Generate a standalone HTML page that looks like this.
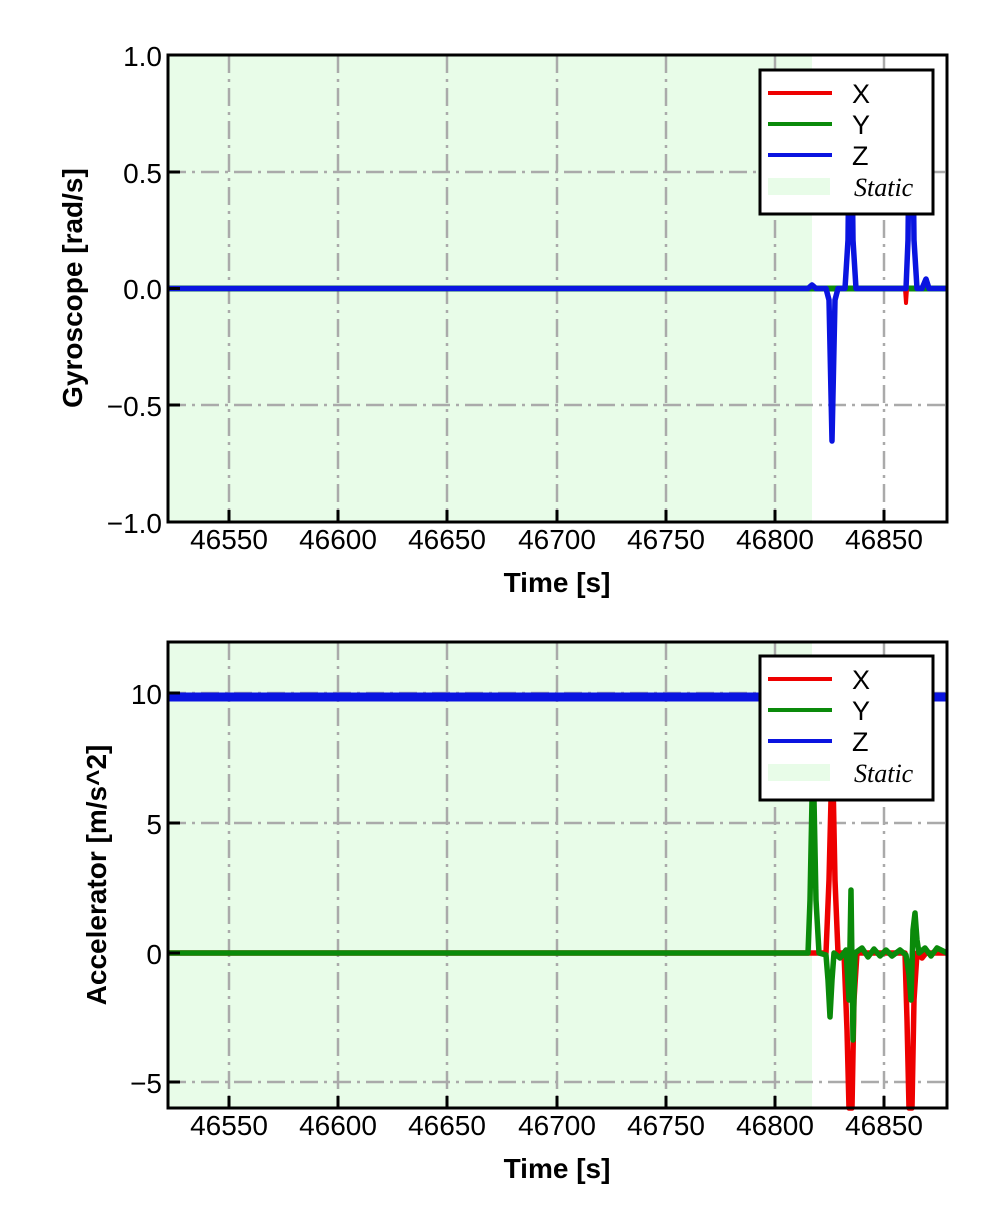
<!DOCTYPE html>
<html><head><meta charset="utf-8"><style>
html,body{margin:0;padding:0;background:#fff;}
svg{display:block;font-family:"Liberation Sans",sans-serif;}
</style></head><body>
<svg width="992" height="1228" viewBox="0 0 992 1228" xmlns="http://www.w3.org/2000/svg">
<!-- TOP PLOT -->
<rect x="168" y="55" width="644" height="467" fill="#e8fce8"/>
<g stroke="#aaa" stroke-width="2.5" stroke-dasharray="18,6,3,6" fill="none">
<line x1="229" y1="55" x2="229" y2="522"/><line x1="338" y1="55" x2="338" y2="522"/>
<line x1="447" y1="55" x2="447" y2="522"/><line x1="557" y1="55" x2="557" y2="522"/>
<line x1="666" y1="55" x2="666" y2="522"/><line x1="775" y1="55" x2="775" y2="522"/>
<line x1="884" y1="55" x2="884" y2="522"/>
<line x1="168" y1="172" x2="947" y2="172"/><line x1="168" y1="405" x2="947" y2="405"/>
</g>
<g fill="none" stroke-linejoin="round">
<path d="M168,288.5 H947" stroke="#0a8a0a" stroke-width="6"/>
<path d="M905,289 L906,303 L907,289" stroke="#e00" stroke-width="4"/>
<path d="M168,288.5 H808 L812,285 L816,288.5 H826 L829,300 L832,441 L835,300 L838,288.5 H845 L848,240 L849,150 L852,150 L853,240 L856,288.5 H906 L908,240 L909,150 L913,150 L914,240 L917,288.5 H922 L926,279 L929,288.5 H947" stroke="#0a14e0" stroke-width="5.5"/>
</g>
<rect x="168" y="55" width="779" height="467" fill="none" stroke="#000" stroke-width="3"/>
<g stroke="#000" stroke-width="3">
<line x1="168" y1="55" x2="180" y2="55"/><line x1="168" y1="172" x2="180" y2="172"/><line x1="168" y1="288.5" x2="180" y2="288.5"/><line x1="168" y1="405" x2="180" y2="405"/><line x1="168" y1="522" x2="180" y2="522"/>
<line x1="229" y1="522" x2="229" y2="510"/><line x1="338" y1="522" x2="338" y2="510"/><line x1="447" y1="522" x2="447" y2="510"/><line x1="557" y1="522" x2="557" y2="510"/><line x1="666" y1="522" x2="666" y2="510"/><line x1="775" y1="522" x2="775" y2="510"/><line x1="884" y1="522" x2="884" y2="510"/>
</g>
<g font-size="28" text-anchor="end" fill="#000">
<text x="162" y="66">1.0</text><text x="162" y="183">0.5</text><text x="162" y="299">0.0</text><text x="162" y="416">−0.5</text><text x="162" y="533">−1.0</text>
</g>
<g font-size="28" text-anchor="middle" fill="#000">
<text x="229" y="549">46550</text><text x="338" y="549">46600</text><text x="447" y="549">46650</text><text x="557" y="549">46700</text><text x="666" y="549">46750</text><text x="775" y="549">46800</text><text x="884" y="549">46850</text>
</g>
<text x="557" y="592" font-size="28" font-weight="bold" text-anchor="middle">Time [s]</text>
<text transform="translate(82,288) rotate(-90)" font-size="28" font-weight="bold" text-anchor="middle">Gyroscope [rad/s]</text>
<rect x="760" y="70" width="173" height="144" fill="#fff" stroke="#000" stroke-width="3"/>
<line x1="768" y1="93" x2="832" y2="93" stroke="#e00" stroke-width="4"/>
<line x1="768" y1="124" x2="832" y2="124" stroke="#0a8a0a" stroke-width="4"/>
<line x1="768" y1="155" x2="832" y2="155" stroke="#0a14e0" stroke-width="4"/>
<rect x="768" y="178" width="62" height="17" fill="#e8fce8"/>
<g font-size="27"><text x="852" y="103">X</text><text x="852" y="134">Y</text><text x="852" y="165">Z</text></g>
<text x="854" y="196" font-size="26" font-style="italic" font-family="Liberation Serif,serif">Static</text>

<!-- BOTTOM PLOT -->
<rect x="168" y="642" width="644" height="466" fill="#e8fce8"/>
<g stroke="#aaa" stroke-width="2.5" stroke-dasharray="18,6,3,6" fill="none">
<line x1="229" y1="642" x2="229" y2="1108"/><line x1="338" y1="642" x2="338" y2="1108"/>
<line x1="447" y1="642" x2="447" y2="1108"/><line x1="557" y1="642" x2="557" y2="1108"/>
<line x1="666" y1="642" x2="666" y2="1108"/><line x1="775" y1="642" x2="775" y2="1108"/>
<line x1="884" y1="642" x2="884" y2="1108"/>
<line x1="168" y1="693" x2="947" y2="693"/><line x1="168" y1="823" x2="947" y2="823"/><line x1="168" y1="1082" x2="947" y2="1082"/>
</g>
<g fill="none" stroke-linejoin="round">
<path d="M168,697 H947" stroke="#0a14e0" stroke-width="9"/>
<path d="M168,953 H826 L829,880 L831,800 L833,780 L835,880 L838,953 L844,953 L847,1030 L849,1108 L852,1108 L854,1000 L857,953 H905 L907,1020 L909,1108 L912,1108 L914,1000 L917,953 L922,958 L926,953 H947" stroke="#e00" stroke-width="5.5"/>
<path d="M168,953 H808 L810,900 L812,800 L814,800 L816,900 L819,953 L826,955 L828,980 L830,1017 L832,980 L834,953 L840,958 L846,950 L849,1000 L851,890 L853,1040 L855,953 L862,948 L868,957 L874,949 L880,956 L886,950 L892,956 L900,950 L906,955 L909,975 L911,1000 L913,930 L915,913 L917,940 L919,953 L925,948 L931,956 L937,948 L947,953" stroke="#0a8a0a" stroke-width="5.5"/>
</g>
<rect x="168" y="642" width="779" height="466" fill="none" stroke="#000" stroke-width="3"/>
<g stroke="#000" stroke-width="3">
<line x1="168" y1="693" x2="180" y2="693"/><line x1="168" y1="823" x2="180" y2="823"/><line x1="168" y1="953" x2="180" y2="953"/><line x1="168" y1="1082" x2="180" y2="1082"/>
<line x1="229" y1="1108" x2="229" y2="1096"/><line x1="338" y1="1108" x2="338" y2="1096"/><line x1="447" y1="1108" x2="447" y2="1096"/><line x1="557" y1="1108" x2="557" y2="1096"/><line x1="666" y1="1108" x2="666" y2="1096"/><line x1="775" y1="1108" x2="775" y2="1096"/><line x1="884" y1="1108" x2="884" y2="1096"/>
</g>
<g font-size="28" text-anchor="end" fill="#000">
<text x="162" y="704">10</text><text x="162" y="834">5</text><text x="162" y="964">0</text><text x="162" y="1093">−5</text>
</g>
<g font-size="28" text-anchor="middle" fill="#000">
<text x="229" y="1135">46550</text><text x="338" y="1135">46600</text><text x="447" y="1135">46650</text><text x="557" y="1135">46700</text><text x="666" y="1135">46750</text><text x="775" y="1135">46800</text><text x="884" y="1135">46850</text>
</g>
<text x="557" y="1178" font-size="28" font-weight="bold" text-anchor="middle">Time [s]</text>
<text transform="translate(106,875) rotate(-90)" font-size="28" font-weight="bold" text-anchor="middle">Accelerator [m/s^2]</text>
<rect x="760" y="656" width="173" height="144" fill="#fff" stroke="#000" stroke-width="3"/>
<line x1="768" y1="679" x2="832" y2="679" stroke="#e00" stroke-width="4"/>
<line x1="768" y1="710" x2="832" y2="710" stroke="#0a8a0a" stroke-width="4"/>
<line x1="768" y1="741" x2="832" y2="741" stroke="#0a14e0" stroke-width="4"/>
<rect x="768" y="764" width="62" height="17" fill="#e8fce8"/>
<g font-size="27"><text x="852" y="689">X</text><text x="852" y="720">Y</text><text x="852" y="751">Z</text></g>
<text x="854" y="782" font-size="26" font-style="italic" font-family="Liberation Serif,serif">Static</text>
</svg>
</body></html>
